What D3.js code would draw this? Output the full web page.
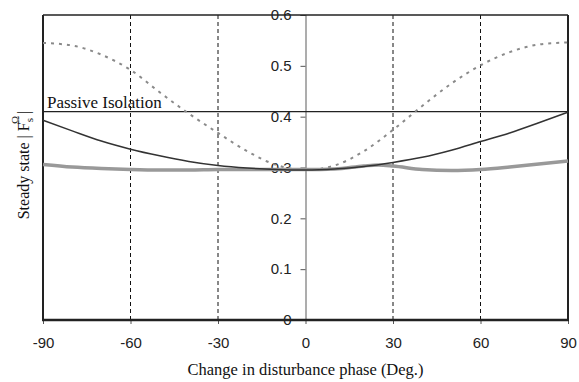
<!DOCTYPE html>
<html>
<head>
<meta charset="utf-8">
<script src="https://cdn.jsdelivr.net/npm/d3@7"></script>
<style>
  html, body { margin: 0; padding: 0; background: #fff; }
  svg { display: block; }
</style>
</head>
<body>
<svg id="chart" width="579" height="382"></svg>
<script>
// Phase change (degrees) sampled every 10 degrees
const phase = [-90, -80, -70, -60, -50, -40, -30, -20, -10, 0, 10, 20, 30, 40, 50, 60, 70, 80, 90];

// Uncontrolled response (dotted grey)
const uncontrolled = [0.545, 0.540, 0.522, 0.492, 0.448, 0.406, 0.368, 0.332, 0.305, 0.295, 0.304, 0.332, 0.374, 0.421, 0.465, 0.501, 0.527, 0.542, 0.546];

// Fixed controller (thin dark line)
const fixedCtrl = [0.393, 0.372, 0.352, 0.336, 0.323, 0.312, 0.304, 0.299, 0.296, 0.295, 0.297, 0.302, 0.310, 0.320, 0.334, 0.351, 0.368, 0.388, 0.409];

// Adaptive controller (thick grey line)
const adaptivePhase = [-90, -80, -70, -60, -50, -40, -30, -20, -10, 0, 10, 20, 25, 30, 40, 50, 60, 70, 80, 90];
const adaptive = [0.306, 0.301, 0.298, 0.296, 0.295, 0.295, 0.296, 0.296, 0.296, 0.296, 0.297, 0.303, 0.305, 0.303, 0.296, 0.294, 0.296, 0.301, 0.307, 0.313];

// Passive isolation reference level
const passiveLevel = 0.41;

const xTicks = [-90, -60, -30, 0, 30, 60, 90];
const yTicks = [0, 0.1, 0.2, 0.3, 0.4, 0.5, 0.6];
const gridPhases = [-60, -30, 30, 60];

const svg = d3.select("#chart");
const x = d3.scaleLinear().domain([-90, 90]).range([43, 568]);
const y = d3.scaleLinear().domain([0, 0.6]).range([320, 15]);

const serif = "Liberation Serif, Times New Roman, serif";
const sans = "Liberation Sans, Arial, sans-serif";

// dashed vertical guides
svg.append("g").selectAll("line").data(gridPhases).join("line")
  .attr("x1", d => x(d)).attr("x2", d => x(d))
  .attr("y1", y(0.6)).attr("y2", y(0))
  .attr("stroke", "#111").attr("stroke-width", 1)
  .attr("stroke-dasharray", "4,3");

// centre y axis with ticks on the left
const yAxis = svg.append("g")
  .attr("transform", `translate(${x(0)},0)`)
  .call(d3.axisLeft(y).tickValues(yTicks).tickSize(5).tickPadding(9)
    .tickFormat(d => d === 0 ? "0" : d3.format(".1f")(d)));
yAxis.select(".domain").attr("stroke", "#777").attr("stroke-width", 1.2);
yAxis.selectAll(".tick line").attr("stroke", "#555");
yAxis.selectAll(".tick text")
  .attr("font-family", sans).attr("font-size", 15).attr("fill", "#222");

// x axis along the bottom (plain hyphen for negatives)
const xAxis = svg.append("g")
  .attr("transform", `translate(0,${y(0)})`)
  .call(d3.axisBottom(x).tickValues(xTicks).tickSize(4).tickPadding(13)
    .tickFormat(d => String(d)));
xAxis.select(".domain").remove();
xAxis.selectAll(".tick line").attr("stroke", "#555");
xAxis.selectAll(".tick text")
  .attr("font-family", sans).attr("font-size", 15).attr("fill", "#222");

// plot frame
const frame = svg.append("g").attr("fill", "none").attr("stroke", "#222");
frame.append("line").attr("x1", x(-90)).attr("x2", x(90)).attr("y1", y(0.6)).attr("y2", y(0.6)).attr("stroke-width", 1.5);
frame.append("line").attr("x1", x(-90) - 1).attr("x2", x(90) + 1).attr("y1", y(0)).attr("y2", y(0)).attr("stroke-width", 2.5);
frame.append("line").attr("x1", x(-90)).attr("x2", x(-90)).attr("y1", y(0.6)).attr("y2", y(0)).attr("stroke-width", 2);
frame.append("line").attr("x1", x(90)).attr("x2", x(90)).attr("y1", y(0.6)).attr("y2", y(0)).attr("stroke-width", 2);

// passive isolation level
svg.append("line")
  .attr("x1", x(-90)).attr("x2", x(90))
  .attr("y1", y(passiveLevel)).attr("y2", y(passiveLevel))
  .attr("stroke", "#222").attr("stroke-width", 1.2);
svg.append("text")
  .attr("x", x(-90) + 4).attr("y", y(passiveLevel) - 4)
  .attr("font-family", serif).attr("font-size", 17).attr("fill", "#111")
  .text("Passive Isolation");

const line = d3.line().x(d => x(d[0])).y(d => y(d[1])).curve(d3.curveMonotoneX);

svg.append("path")
  .datum(d3.zip(phase, uncontrolled))
  .attr("d", line).attr("fill", "none")
  .attr("stroke", "#8a8a8a").attr("stroke-width", 2)
  .attr("stroke-dasharray", "3,5");

svg.append("path")
  .datum(d3.zip(adaptivePhase, adaptive))
  .attr("d", line).attr("fill", "none")
  .attr("stroke", "#999").attr("stroke-width", 3.5);

svg.append("path")
  .datum(d3.zip(phase, fixedCtrl))
  .attr("d", line).attr("fill", "none")
  .attr("stroke", "#333").attr("stroke-width", 1.5);

// axis titles
svg.append("text")
  .attr("x", x(0)).attr("y", 375)
  .attr("text-anchor", "middle")
  .attr("font-family", serif).attr("font-size", 16.5).attr("fill", "#111")
  .text("Change in disturbance phase (Deg.)");

const yTitle = svg.append("text")
  .attr("transform", "translate(29,165) rotate(-90)")
  .attr("text-anchor", "middle")
  .attr("font-family", serif).attr("font-size", 16).attr("fill", "#111");
yTitle.append("tspan").text("Steady state  | F");
yTitle.append("tspan").attr("dy", 4).attr("font-size", 11).text("s");
yTitle.append("tspan").attr("dx", -6).attr("dy", -14).attr("font-size", 11).text("Ω");
yTitle.append("tspan").attr("dx", 2).attr("dy", 10).text("|");
</script>
</body>
</html>
